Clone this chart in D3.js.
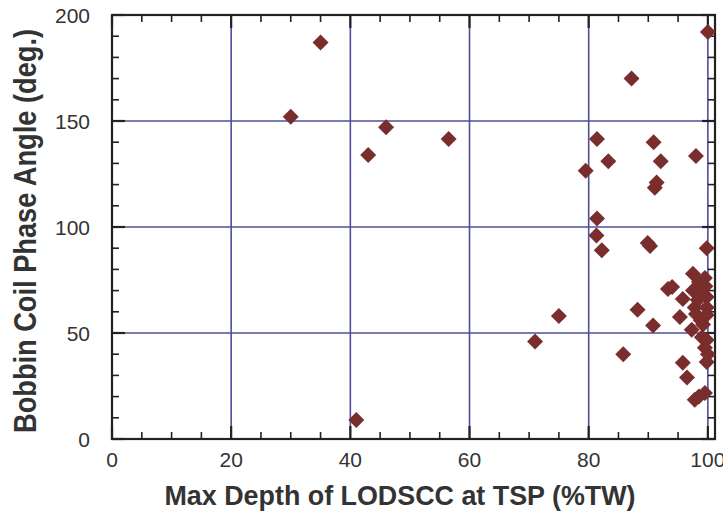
<!DOCTYPE html>
<html>
<head>
<meta charset="utf-8">
<script src="https://cdn.jsdelivr.net/npm/d3@7"></script>
<style>
  body { margin: 0; background: #fff; }
  text { font-family: "Liberation Sans", Arial, sans-serif; }
</style>
</head>
<body>
<div id="chart"></div>
<script>
// chart values
let depth = [30, 35, 41, 43, 46, 56.5, 71, 75,
  79.5, 81.4, 81.4, 81.3, 82.2, 83.3, 85.8, 87.2, 88.2, 89.9, 90.3, 90.8,
  90.9, 91.1, 91.4, 92.1, 93.3, 94, 95.3, 95.8, 95.8, 96.5, 97.5, 97.5,
  97.8, 97.3, 97.8, 98, 98.3, 98.5, 98.8, 99, 99.2, 99.5, 99.5, 99.5,
  99.8, 99.8, 99.8, 99.8, 99.8, 100, 99.6, 99.8, 100, 98.5, 99, 98];
let phase = [152, 187, 9, 134, 147, 141.5, 46, 58,
  126.5, 141.5, 104, 96, 89, 131, 40, 170, 61, 92.5, 91, 53.5,
  140, 118.5, 121, 131, 70.8, 71.7, 57.5, 66, 36, 29, 78, 70,
  62, 51.5, 18.5, 133.5, 65.6, 74, 56, 48, 54, 76, 43, 21.7,
  90, 67, 58.5, 46.7, 36.3, 192, 72, 62, 40, 20, 68, 59];

let xTicks = [0, 20, 40, 60, 80, 100];
let yTicks = [0, 50, 100, 150, 200];
let xTitle = "Max Depth of LODSCC at TSP (%TW)";
let yTitle = "Bobbin Coil Phase Angle (deg.)";

let width = 723, height = 514;
let gridColor = "#4e4e9c";
let markColor = "#7a2d2d";

let xScale = d3.scaleLinear().domain([0, 101.2]).range([112, 715]);
let yScale = d3.scaleLinear().domain([0, 200]).range([439, 15]);
let x0 = xScale(0), x1 = xScale(101.2), y0 = yScale(0), y1 = yScale(200);

let svg = d3.select("#chart").append("svg")
  .attr("width", width)
  .attr("height", height);

// grid lines
svg.append("g").selectAll("line")
  .data(xTicks.slice(1))
  .enter().append("line")
  .attr("x1", d => xScale(d)).attr("x2", d => xScale(d))
  .attr("y1", y0).attr("y2", y1)
  .attr("stroke", gridColor).attr("stroke-width", 1.6);
svg.append("g").selectAll("line")
  .data(yTicks.slice(1, -1))
  .enter().append("line")
  .attr("y1", d => yScale(d)).attr("y2", d => yScale(d))
  .attr("x1", x0).attr("x2", x1)
  .attr("stroke", gridColor).attr("stroke-width", 1.6);

// inward ticks on all four sides
let xMinor = d3.range(0, 101, 5);
let yMinor = d3.range(0, 201, 10);
let tickG = svg.append("g").attr("stroke", "#222");
function isMajor(v, step) { return v % step === 0; }
xMinor.forEach(v => {
  let len = isMajor(v, 20) ? 13 : 7;
  let w = isMajor(v, 20) ? 2.2 : 1.6;
  tickG.append("line").attr("x1", xScale(v)).attr("x2", xScale(v))
    .attr("y1", y0).attr("y2", y0 - len).attr("stroke-width", w);
  tickG.append("line").attr("x1", xScale(v)).attr("x2", xScale(v))
    .attr("y1", y1).attr("y2", y1 + len).attr("stroke-width", w);
});
yMinor.forEach(v => {
  let len = isMajor(v, 50) ? 13 : 7;
  let w = isMajor(v, 50) ? 2.2 : 1.6;
  tickG.append("line").attr("y1", yScale(v)).attr("y2", yScale(v))
    .attr("x1", x0).attr("x2", x0 + len).attr("stroke-width", w);
  tickG.append("line").attr("y1", yScale(v)).attr("y2", yScale(v))
    .attr("x1", x1).attr("x2", x1 - len).attr("stroke-width", w);
});

// frame
svg.append("rect")
  .attr("x", x0).attr("y", y1)
  .attr("width", x1 - x0).attr("height", y0 - y1)
  .attr("fill", "none").attr("stroke", "#222").attr("stroke-width", 2.2);

// tick labels
svg.append("g").selectAll("text")
  .data(xTicks)
  .enter().append("text")
  .attr("x", d => xScale(d)).attr("y", 467)
  .attr("text-anchor", "middle")
  .attr("font-size", 21).attr("fill", "#333")
  .text(d => d);
svg.append("g").selectAll("text")
  .data(yTicks)
  .enter().append("text")
  .attr("x", 90).attr("y", d => yScale(d) + 7.5)
  .attr("text-anchor", "end")
  .attr("font-size", 21).attr("fill", "#333")
  .text(d => d);

// axis titles
svg.append("text")
  .attr("x", 400).attr("y", 505)
  .attr("text-anchor", "middle")
  .attr("font-size", 27).attr("font-weight", "bold").attr("fill", "#333")
  .attr("textLength", 471).attr("lengthAdjust", "spacingAndGlyphs")
  .text(xTitle);
svg.append("text")
  .attr("transform", "translate(36,231) rotate(-90) scale(1,1.25)")
  .attr("text-anchor", "middle")
  .attr("font-size", 25).attr("font-weight", "bold").attr("fill", "#333")
  .attr("textLength", 404).attr("lengthAdjust", "spacingAndGlyphs")
  .text(yTitle);

// diamond markers
let diamond = d3.symbol().type(d3.symbolSquare).size(128);
svg.append("g").selectAll("path")
  .data(d3.range(depth.length))
  .enter().append("path")
  .attr("d", diamond)
  .attr("transform", i => "translate(" + xScale(depth[i]) + "," + yScale(phase[i]) + ") rotate(45)")
  .attr("fill", markColor);
</script>
</body>
</html>
